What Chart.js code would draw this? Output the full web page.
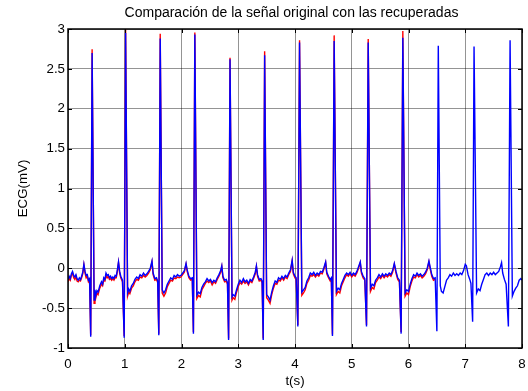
<!DOCTYPE html>
<html><head><meta charset="utf-8">
<script src="https://cdn.jsdelivr.net/npm/chart.js@4"></script>
<style>html,body{margin:0;padding:0;background:#fff;}canvas{display:block;}</style>
</head><body>
<canvas id="c" width="528" height="391"></canvas>
<script>
const titleText = 'Comparación de la señal original con las recuperadas';
const xLabel = 't(s)';
const yLabel = 'ECG(mV)';
const xTicks = [0, 1, 2, 3, 4, 5, 6, 7, 8];
const yTicks = [-1, -0.5, 0, 0.5, 1, 1.5, 2, 2.5, 3];

// time samples (s)
const tRec = [
  0,0.02,0.04,0.06,0.08,0.10,0.12,0.14,0.16,0.18,0.20,0.22,0.24,0.26,0.28,0.30,0.32,0.34,0.36,0.38,
  0.40,0.425,0.46,0.475,0.49,0.51,0.53,0.56,0.59,0.61,0.63,0.65,0.67,0.69,0.71,0.73,0.75,0.77,0.79,0.81,0.83,0.85,0.87,0.89,0.91,0.93,0.96,
  0.99,1.015,1.05,1.07,1.09,1.12,1.15,1.18,1.21,1.24,1.27,1.30,1.33,1.36,1.39,1.42,1.45,1.48,1.50,1.53,1.56,1.58,
  1.60,1.625,1.66,1.69,1.72,1.75,1.78,1.81,1.84,1.87,1.90,1.93,1.96,1.99,2.02,2.05,2.08,2.10,2.13,2.16,2.19,
  2.21,2.235,2.27,2.30,2.33,2.36,2.39,2.42,2.45,2.48,2.51,2.54,2.57,2.60,2.63,2.66,2.69,2.71,2.73,2.76,2.79,2.81,
  2.83,2.855,2.89,2.91,2.94,2.97,3.00,3.03,3.06,3.09,3.12,3.15,3.18,3.21,3.24,3.27,3.30,3.32,3.34,3.37,3.40,3.42,
  3.44,3.465,3.50,3.53,3.56,3.59,3.62,3.65,3.68,3.71,3.74,3.77,3.80,3.83,3.86,3.89,3.92,3.95,3.97,4.00,4.02,
  4.05,4.08,4.12,4.15,4.18,4.21,4.24,4.27,4.30,4.33,4.36,4.39,4.42,4.45,4.48,4.51,4.54,4.56,4.59,4.62,4.64,
  4.66,4.69,4.73,4.76,4.79,4.82,4.85,4.88,4.91,4.94,4.97,5.00,5.03,5.06,5.09,5.12,5.15,5.17,5.20,5.23,
  5.26,5.29,5.33,5.36,5.39,5.42,5.45,5.48,5.51,5.54,5.57,5.60,5.63,5.66,5.69,5.72,5.75,5.78,5.81,5.84,
  5.87,5.90,5.94,5.97,6.00,6.03,6.06,6.09,6.12,6.15,6.18,6.21,6.24,6.27,6.30,6.33,6.36,6.38,6.41,6.44,6.47,
  6.50,6.525,6.56,6.58,6.61,6.64,6.67,6.70,6.73,6.76,6.79,6.82,6.85,6.88,6.91,6.94,6.97,7.00,7.02,7.05,7.08,7.10,
  7.13,7.155,7.20,7.23,7.26,7.29,7.32,7.35,7.38,7.41,7.44,7.47,7.50,7.53,7.56,7.59,7.62,7.64,7.66,7.69,7.72,
  7.76,7.79,7.83,7.86,7.89,7.92,7.95,7.98,8.00
];

// recovered signal (blue), mV
const ecgRec = [
  -0.14,-0.10,-0.13,-0.07,-0.04,-0.09,-0.11,-0.08,-0.13,-0.15,-0.12,-0.14,-0.10,-0.05,0.05,-0.04,-0.09,-0.08,-0.15,-0.13,
  -0.86,2.70,-0.40,-0.27,-0.34,-0.28,-0.30,-0.22,-0.17,-0.20,-0.12,-0.14,-0.06,-0.09,-0.08,-0.12,-0.10,-0.13,-0.11,-0.13,-0.09,-0.10,-0.02,0.08,-0.04,-0.10,-0.15,
  -0.87,2.95,-0.31,-0.26,-0.29,-0.22,-0.19,-0.14,-0.11,-0.13,-0.08,-0.10,-0.06,-0.09,-0.07,-0.04,0.00,0.09,-0.06,-0.13,-0.12,-0.16,
  -0.84,2.88,-0.27,-0.31,-0.27,-0.20,-0.16,-0.12,-0.14,-0.09,-0.11,-0.08,-0.10,-0.09,-0.06,-0.03,0.06,-0.02,-0.10,-0.13,-0.12,
  -0.82,2.93,-0.34,-0.30,-0.32,-0.24,-0.20,-0.17,-0.13,-0.16,-0.14,-0.18,-0.15,-0.17,-0.12,-0.08,-0.03,0.03,-0.10,-0.15,-0.14,-0.18,
  -0.90,2.62,-0.36,-0.33,-0.35,-0.27,-0.20,-0.15,-0.18,-0.13,-0.17,-0.15,-0.19,-0.14,-0.16,-0.11,-0.05,0.03,-0.08,-0.14,-0.13,-0.16,
  -0.90,2.67,-0.33,-0.36,-0.40,-0.30,-0.22,-0.16,-0.18,-0.12,-0.14,-0.10,-0.13,-0.09,-0.11,-0.06,-0.02,0.10,-0.05,-0.10,-0.12,
  -0.73,2.83,-0.30,-0.27,-0.24,-0.16,-0.12,-0.06,-0.08,-0.05,-0.09,-0.06,-0.08,-0.04,-0.05,0.01,0.08,-0.05,-0.10,-0.14,-0.12,
  -0.85,2.85,-0.29,-0.25,-0.27,-0.19,-0.14,-0.09,-0.06,-0.08,-0.05,-0.09,-0.06,-0.08,-0.04,0.02,0.08,-0.04,-0.10,-0.13,
  -0.73,2.83,-0.25,-0.20,-0.22,-0.15,-0.12,-0.08,-0.11,-0.07,-0.10,-0.07,-0.09,-0.06,-0.08,-0.03,0.06,-0.04,-0.12,-0.15,
  -0.82,2.89,-0.31,-0.27,-0.29,-0.20,-0.13,-0.08,-0.10,-0.06,-0.09,-0.07,-0.10,-0.08,-0.05,0.00,0.09,0.02,-0.08,-0.13,-0.12,
  -0.79,2.79,-0.22,-0.29,-0.31,-0.23,-0.15,-0.12,-0.08,-0.10,-0.06,-0.09,-0.07,-0.09,-0.06,-0.08,-0.03,0.05,0.03,-0.08,-0.14,-0.19,
  -0.67,2.78,-0.31,-0.26,-0.28,-0.20,-0.14,-0.08,-0.06,-0.09,-0.06,-0.08,-0.05,-0.08,-0.06,-0.04,0.02,0.07,-0.06,-0.14,-0.20,
  -0.73,2.86,-0.35,-0.29,-0.25,-0.22,-0.15,-0.13,-0.15
];

// original signal (red), mV, sampled at the first tRec times
const ecgOrig = [
  -0.17,-0.13,-0.15,-0.09,-0.06,-0.12,-0.14,-0.10,-0.16,-0.17,-0.15,-0.16,-0.12,-0.07,0.04,-0.06,-0.12,-0.10,-0.17,-0.15,
  -0.84,2.745,-0.44,-0.31,-0.37,-0.31,-0.33,-0.25,-0.20,-0.22,-0.15,-0.16,-0.09,-0.12,-0.10,-0.14,-0.13,-0.15,-0.13,-0.15,-0.12,-0.12,-0.04,0.07,-0.06,-0.12,-0.17,
  -0.85,3.00,-0.35,-0.30,-0.32,-0.25,-0.22,-0.17,-0.14,-0.15,-0.11,-0.12,-0.09,-0.11,-0.09,-0.06,-0.02,0.08,-0.08,-0.15,-0.14,-0.18,
  -0.82,2.94,-0.31,-0.35,-0.31,-0.23,-0.19,-0.15,-0.16,-0.12,-0.13,-0.11,-0.12,-0.11,-0.08,-0.05,0.05,-0.04,-0.12,-0.15,-0.14,
  -0.80,2.955,-0.38,-0.34,-0.36,-0.27,-0.23,-0.19,-0.16,-0.18,-0.16,-0.21,-0.17,-0.19,-0.14,-0.10,-0.05,0.02,-0.12,-0.17,-0.16,-0.20,
  -0.88,2.64,-0.40,-0.37,-0.39,-0.30,-0.23,-0.18,-0.20,-0.16,-0.19,-0.17,-0.21,-0.16,-0.18,-0.13,-0.07,0.02,-0.10,-0.16,-0.15,-0.18,
  -0.88,2.72,-0.37,-0.40,-0.44,-0.33,-0.25,-0.19,-0.20,-0.15,-0.16,-0.12,-0.15,-0.11,-0.13,-0.08,-0.04,0.09,-0.07,-0.12,-0.14,
  -0.71,2.86,-0.34,-0.31,-0.27,-0.19,-0.15,-0.09,-0.10,-0.08,-0.11,-0.08,-0.10,-0.06,-0.07,-0.01,0.07,-0.07,-0.12,-0.16,-0.14,
  -0.83,2.92,-0.33,-0.29,-0.31,-0.22,-0.17,-0.12,-0.08,-0.10,-0.07,-0.11,-0.08,-0.10,-0.06,0.00,0.07,-0.06,-0.12,-0.15,
  -0.71,2.875,-0.29,-0.24,-0.26,-0.18,-0.15,-0.11,-0.13,-0.09,-0.12,-0.09,-0.11,-0.08,-0.10,-0.05,0.05,-0.06,-0.14,-0.17,
  -0.80,2.975,-0.35,-0.31,-0.33,-0.23,-0.16,-0.11,-0.12,-0.08,-0.11,-0.09,-0.12,-0.10,-0.07,-0.02,0.08,0.00,-0.10,-0.15,-0.14
];

const FONT = "'Liberation Sans', Arial, Helvetica, sans-serif";
Chart.defaults.font.family = FONT;
Chart.defaults.font.size = 13.3;
Chart.defaults.color = '#000';

const boxPlugin = {
  id: 'matlabBox',
  afterDatasetsDraw(chart) {
    const {ctx, chartArea: {left, right, top, bottom}, scales: {x, y}} = chart;
    ctx.save();
    ctx.strokeStyle = '#000';
    ctx.lineWidth = 1;
    const tl = 4;
    ctx.beginPath();
    xTicks.forEach(v => {
      const px = Math.round(x.getPixelForValue(v)) + 0.5;
      ctx.moveTo(px, bottom); ctx.lineTo(px, bottom - tl);
      ctx.moveTo(px, top); ctx.lineTo(px, top + tl);
    });
    yTicks.forEach(v => {
      const py = Math.round(y.getPixelForValue(v)) + 0.5;
      ctx.moveTo(left, py); ctx.lineTo(left + tl, py);
      ctx.moveTo(right, py); ctx.lineTo(right - tl, py);
    });
    ctx.stroke();
    ctx.lineWidth = 1.5;
    ctx.strokeRect(left, top, right - left, bottom - top);
    // title centred over the axes box
    ctx.fillStyle = '#000';
    ctx.font = '14px ' + FONT;
    ctx.textAlign = 'center';
    ctx.textBaseline = 'middle';
    ctx.fillText(titleText, (left + right) / 2 - 3.5, 13);
    ctx.restore();
  }
};

new Chart(document.getElementById('c'), {
  type: 'line',
  data: {
    datasets: [
      {
        label: 'recuperada',
        data: tRec.map((t, i) => ({x: t, y: ecgRec[i]})),
        borderColor: '#0000ff',
        borderWidth: 1.4,
        pointRadius: 0,
        tension: 0,
        fill: false,
        order: 0
      },
      {
        label: 'original',
        data: ecgOrig.map((v, i) => ({x: tRec[i], y: v})),
        borderColor: '#ff0000',
        borderWidth: 1.4,
        pointRadius: 0,
        tension: 0,
        fill: false,
        order: 1
      }
    ]
  },
  options: {
    responsive: false,
    animation: false,
    devicePixelRatio: 1,
    layout: {padding: {left: 0, right: 6, top: 29, bottom: 0}},
    plugins: {
      legend: {display: false},
      tooltip: {enabled: false},
      title: {display: false}
    },
    scales: {
      x: {
        type: 'linear',
        min: xTicks[0],
        max: xTicks[xTicks.length - 1],
        afterBuildTicks: s => { s.ticks = xTicks.map(v => ({value: v})); },
        afterFit: s => { s.height = 43; s.paddingLeft = 0; s.paddingRight = 0; },
        ticks: {padding: 8, color: '#000', font: {size: 13.3}, callback: v => String(v)},
        grid: {color: 'rgba(0,0,0,0.42)', lineWidth: 1, drawTicks: false},
        border: {display: false},
        title: {display: true, text: xLabel, color: '#000', font: {size: 13.3, lineHeight: 1.2}, padding: {top: 0, bottom: 2}}
      },
      y: {
        type: 'linear',
        min: yTicks[0],
        max: yTicks[yTicks.length - 1],
        afterBuildTicks: s => { s.ticks = yTicks.map(v => ({value: v})); },
        afterFit: s => { s.width = 68; s.paddingTop = 0; s.paddingBottom = 0; },
        ticks: {padding: 3, color: '#000', font: {size: 13.3}, callback: v => String(v)},
        grid: {color: 'rgba(0,0,0,0.42)', lineWidth: 1, drawTicks: false},
        border: {display: false},
        title: {display: true, text: yLabel, color: '#000', font: {size: 13.3, lineHeight: 1.2}, padding: {top: 15, bottom: 0}}
      }
    }
  },
  plugins: [boxPlugin]
});
</script>
</body></html>
